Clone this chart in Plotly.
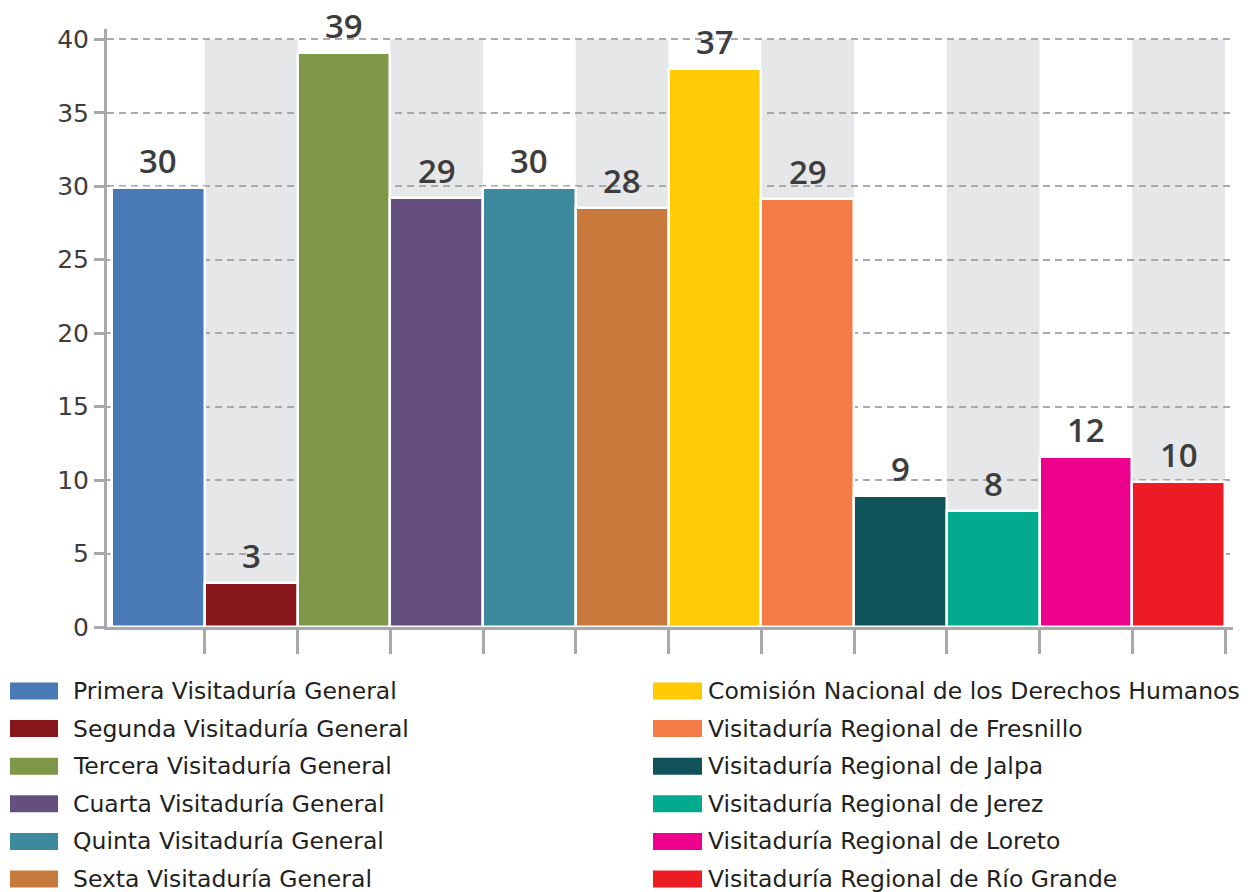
import plotly.graph_objects as go

categories = [
    "Primera Visitaduría General",
    "Segunda Visitaduría General",
    "Tercera Visitaduría General",
    "Cuarta Visitaduría General",
    "Quinta Visitaduría General",
    "Sexta Visitaduría General",
    "Comisión Nacional de los Derechos Humanos",
    "Visitaduría Regional de Fresnillo",
    "Visitaduría Regional de Jalpa",
    "Visitaduría Regional de Jerez",
    "Visitaduría Regional de Loreto",
    "Visitaduría Regional de Río Grande",
]
values = [29.9, 3.0, 39.1, 29.2, 29.9, 28.5, 38.0, 29.1, 8.9, 7.9, 11.6, 9.9]
labels = ["30", "3", "39", "29", "30", "28", "37", "29", "9", "8", "12", "10"]
colors = [
    "#4a7ab5", "#87161a", "#7e9749", "#654f7f", "#3d8a9e", "#c87a3c",
    "#fecb05", "#f47b46", "#10525a", "#02aa8e", "#ec008c", "#ed1c24",
]
y_ticks = [0, 5, 10, 15, 20, 25, 30, 35, 40]

# page body has an 8px margin: figure coords = reference coords - 8
OFF = 8
W, H = 1250 - OFF, 892 - OFF
ML, MT = 107 - OFF, 29 - OFF
MR = W - (1233 - OFF)
MB = H - (627 - OFF)
PW, PH = W - ML - MR, H - MT - MB

GRID = "#a7a9ac"
BAND = "#e6e7e8"
TXT = "#3d3d3e"
NUMFONT = "Open Sans"
FONT = "DejaVu Sans"

idx = list(range(len(categories)))

fig = go.Figure()
fig.add_trace(go.Bar(
    x=idx, y=values, width=1,
    marker=dict(color=colors, line=dict(color="white", width=2.5)),
    showlegend=False, hoverinfo="skip",
))

shapes = []
for i in idx:
    if i % 2 == 1:
        shapes.append(dict(type="rect", xref="x", yref="y", x0=i - 0.5, x1=i + 0.5,
                           y0=0, y1=40, fillcolor=BAND, line=dict(width=0), layer="below"))

annotations = []
for i, (v, lbl) in enumerate(zip(values, labels)):
    annotations.append(dict(x=i, y=v, xref="x", yref="y", text=lbl, showarrow=False,
                            yanchor="bottom", yshift=3,
                            font=dict(family=NUMFONT, size=33, color=TXT, weight=600)))


def px2paper_x(px):
    return (px - OFF - ML) / PW


def px2paper_y(py):
    return 1 - (py - OFF - MT) / PH


# custom legend (two columns), positions given in reference pixels
per_col = 6
for k, (name, c) in enumerate(zip(categories, colors)):
    col, row = divmod(k, per_col)
    cy = 691 + 37.6 * row
    sx0, sx1, tx = (10, 58, 71) if col == 0 else (653, 702, 706)
    shapes.append(dict(type="rect", xref="paper", yref="paper",
                       x0=px2paper_x(sx0), x1=px2paper_x(sx1),
                       y0=px2paper_y(cy + 8.5), y1=px2paper_y(cy - 8.5),
                       fillcolor=c, line=dict(width=0)))
    annotations.append(dict(x=px2paper_x(tx), y=px2paper_y(cy), xref="paper", yref="paper",
                            text=name, showarrow=False, xanchor="left", yanchor="middle",
                            font=dict(family=FONT, size=23.5, color="#231f20")))

fig.update_layout(
    width=W, height=H,
    margin=dict(l=ML, r=MR, t=MT, b=MB, pad=0),
    plot_bgcolor="white", paper_bgcolor="white",
    shapes=shapes, annotations=annotations,
    bargap=0,
    xaxis=dict(
        range=[-0.554, 11.586], tickvals=[i + 0.5 for i in idx], showticklabels=False,
        ticks="outside", ticklen=24, tickwidth=3, tickcolor=GRID,
        showline=True, linecolor=GRID, linewidth=3, showgrid=False, zeroline=False,
    ),
    yaxis=dict(
        range=[0, 40.7], tickvals=y_ticks, ticks="outside", ticklen=10, tickwidth=2.5,
        tickcolor=GRID, showline=True, linecolor=GRID, linewidth=3,
        showgrid=True, gridcolor=GRID, gridwidth=2, griddash="7px,5px", zeroline=False,
        tickfont=dict(family=FONT, size=25, color=TXT),
    ),
)

fig.write_html("out.html")
